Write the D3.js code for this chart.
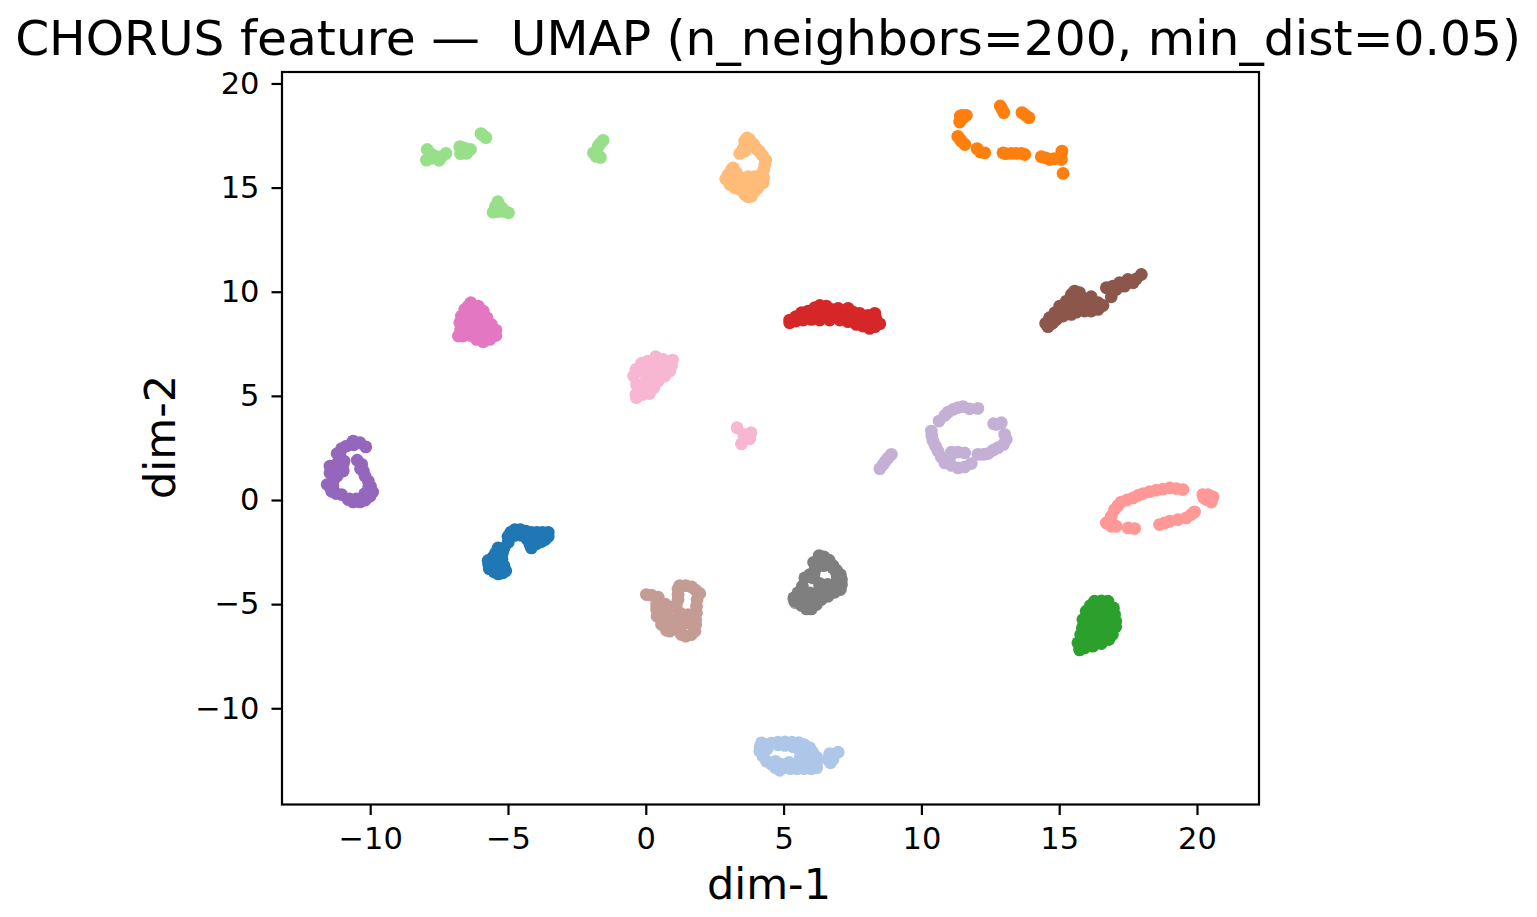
<!DOCTYPE html>
<html>
<head>
<meta charset="utf-8">
<script src="https://cdn.jsdelivr.net/npm/d3@7"></script>
<style>
html, body { margin: 0; padding: 0; background: #fff; }
svg { display: block; font-family: "DejaVu Sans", sans-serif; }
</style>
</head>
<body>
<svg id="chart" width="1537" height="917"></svg>
<script>
// Embedding coordinates per class, as [dim-1, dim-2]
const classBlue = [[-3.54,-1.55],[-3.54,-1.75],[-3.65,-1.9],[-3.8,-2.0],[-3.97,-2.1],[-4.15,-2.3],[-4.2,-2.15],[-4.05,-1.9],[-4.3,-1.9],[-3.75,-1.55],[-3.95,-1.55],[-4.15,-1.55],[-4.35,-1.5],[-4.55,-1.42],[-4.75,-1.42],[-4.9,-1.55],[-5.0,-1.75],[-4.75,-1.7],[-4.5,-1.7],[-4.25,-1.75],[-4.99,-2.03],[-5.36,-2.3],[-5.14,-2.3],[-5.45,-2.55],[-5.55,-2.75],[-5.72,-2.9],[-5.7,-3.1],[-5.68,-3.3],[-5.5,-3.45],[-5.35,-3.55],[-5.2,-3.5],[-5.08,-3.4],[-5.15,-3.15],[-5.22,-2.85],[-5.2,-2.55],[-5.4,-2.9],[-5.4,-3.2],[-5.25,-3.3]];
const classLightBlue = [[4.2,-11.66],[4.15,-11.85],[4.14,-12.06],[4.25,-12.3],[4.38,-12.54],[4.55,-12.68],[4.7,-12.85],[4.86,-12.98],[5.05,-12.85],[5.25,-12.9],[5.5,-12.9],[5.75,-12.9],[6.0,-12.9],[6.2,-12.85],[6.2,-12.6],[6.2,-12.35],[6.05,-12.1],[5.95,-11.9],[5.75,-11.75],[5.55,-11.65],[5.3,-11.63],[5.05,-11.62],[4.8,-11.63],[4.55,-11.68],[4.35,-11.75],[4.4,-11.95],[5.6,-12.1],[5.6,-12.4],[5.85,-12.3],[5.85,-12.6],[5.6,-12.65],[5.35,-12.8],[4.8,-11.75],[5.05,-11.78],[5.35,-11.85],[4.7,-12.55],[4.95,-12.7],[5.2,-12.6],[6.7,-12.62],[6.61,-12.46],[6.67,-12.18],[6.98,-12.11],[6.79,-12.46],[6.85,-12.2]];
const classOrange = [[11.63,18.47],[11.49,18.47],[11.41,18.44],[11.39,18.15],[11.51,18.36],[12.86,18.92],[12.93,18.76],[12.99,18.6],[13.65,18.6],[13.78,18.47],[13.9,18.36],[11.32,17.46],[11.41,17.31],[11.45,17.23],[11.58,17.07],[12.02,16.87],[12.3,16.67],[12.14,16.71],[12.96,16.67],[13.06,16.63],[13.26,16.64],[13.44,16.64],[13.63,16.64],[13.75,16.59],[14.35,16.48],[14.51,16.43],[14.65,16.35],[14.83,16.39],[15.1,16.75],[15.08,16.35],[15.14,15.68]];
const classLightOrange = [[3.675,17.38],[3.77,17.31],[3.92,17.07],[4.01,16.87],[4.11,16.75],[4.23,16.55],[4.35,16.32],[4.32,16.11],[4.28,15.87],[4.28,15.47],[4.2,15.63],[4.26,15.23],[4.07,14.99],[3.95,14.83],[3.83,14.59],[3.71,14.56],[3.59,14.67],[3.41,14.91],[3.23,14.99],[3.05,15.15],[2.9,15.41],[2.99,15.63],[3.11,15.87],[3.17,15.95],[3.29,15.71],[3.47,15.47],[3.71,15.52],[3.95,15.52],[3.65,15.15],[3.29,15.31],[3.89,15.15],[4.07,15.31],[3.59,17.23],[3.65,16.99],[3.53,16.87],[3.41,16.64],[3.59,16.75]];
const classGreen = [[16.28,-4.86],[16.53,-4.84],[16.77,-4.86],[16.97,-5.18],[17.01,-5.5],[17.05,-5.82],[17.05,-6.09],[16.93,-6.46],[16.8,-6.7],[16.53,-6.89],[16.22,-7.02],[15.92,-7.1],[15.74,-7.2],[15.68,-6.86],[15.78,-6.46],[15.84,-6.14],[15.86,-5.74],[15.98,-5.34],[16.13,-5.07],[16.35,-5.42],[16.71,-5.42],[16.16,-5.82],[16.53,-5.9],[16.83,-5.9],[16.1,-6.38],[16.47,-6.46],[16.1,-6.78],[16.35,-5.1],[16.7,-5.15],[16.35,-5.65],[16.7,-5.65],[16.3,-6.15],[16.7,-6.2],[16.85,-6.4],[16.1,-5.55],[16.3,-6.7],[16.65,-6.6],[15.95,-6.6],[16.05,-6.0],[16.55,-6.2]];
const classLightGreen = [[-7.93,16.83],[-7.96,16.32],[-7.5,16.31],[-7.25,16.64],[-7.65,16.51],[-7.78,16.6],[-7.8,16.4],[-7.4,16.5],[-6.75,16.96],[-6.72,16.63],[-6.5,16.64],[-6.36,16.83],[-6.6,16.91],[-6.6,16.75],[-5.98,17.59],[-5.9,17.5],[-5.8,17.4],[-5.37,14.32],[-5.54,13.82],[-4.98,13.79],[-5.3,14.11],[-5.42,13.95],[-5.18,13.87],[-5.45,14.1],[-5.2,14.0],[-5.1,13.85],[-5.35,13.85],[-1.55,17.27],[-1.65,17.13],[-1.72,16.99],[-1.9,16.67],[-1.645,16.45],[-1.79,16.75],[-1.8,16.5],[-1.75,16.6]];
const classRed = [[5.22,8.64],[5.44,8.8],[5.65,8.99],[5.89,9.07],[6.13,9.23],[6.31,9.34],[6.55,9.31],[6.73,9.15],[6.98,9.2],[7.34,9.2],[7.52,9.02],[7.76,8.96],[8.06,8.86],[8.31,8.96],[8.34,8.75],[8.49,8.46],[8.31,8.32],[8.12,8.24],[7.88,8.35],[7.64,8.43],[7.34,8.56],[7.04,8.64],[6.67,8.64],[6.31,8.64],[6.01,8.67],[5.71,8.64],[5.44,8.59],[5.22,8.51],[6.19,8.91],[6.55,8.91],[6.92,8.91],[7.22,8.86],[7.64,8.75],[8.0,8.59],[8.3,8.55]];
const classLightRed = [[19.49,0.5],[19.25,0.55],[19.01,0.58],[18.76,0.52],[18.52,0.47],[18.28,0.4],[18.04,0.31],[17.86,0.22],[17.68,0.1],[17.46,0.0],[17.25,-0.1],[17.13,-0.27],[17.01,-0.46],[16.89,-0.78],[16.81,-1.02],[16.71,-1.1],[16.89,-1.26],[17.07,-1.26],[17.5,-1.34],[17.74,-1.37],[18.64,-1.18],[18.82,-1.1],[19.01,-1.02],[19.31,-0.94],[19.61,-0.86],[19.79,-0.7],[19.91,-0.57],[20.21,0.26],[20.4,0.26],[20.58,0.15],[20.52,-0.1],[20.34,0.02],[20.4,0.1],[20.25,0.1]];
const classPurple = [[-10.62,2.83],[-10.37,2.75],[-10.16,2.55],[-10.86,2.59],[-11.04,2.46],[-11.2,2.23],[-11.08,2.03],[-11.46,1.63],[-11.46,1.31],[-10.98,1.39],[-10.98,1.71],[-11.22,1.47],[-10.95,1.87],[-10.47,1.91],[-10.31,1.71],[-10.25,1.39],[-10.19,1.15],[-10.07,0.91],[-9.99,0.66],[-9.91,0.38],[-10.01,0.18],[-10.19,-0.01],[-10.37,-0.09],[-10.62,-0.09],[-10.8,0.02],[-11.04,0.26],[-11.24,0.31],[-11.4,0.42],[-11.56,0.74],[-11.34,0.91],[-10.2,0.3],[-10.5,0.05],[-10.75,0.05],[-11.35,0.65],[-11.2,1.15],[-11.2,1.75],[-10.35,1.5],[-10.05,0.65],[-11.1,2.25],[-10.6,2.65]];
const classLightPurple = [[8.91,2.19],[8.79,2.02],[8.7,1.87],[8.61,1.7],[8.49,1.5],[12.05,4.4],[11.75,4.38],[11.51,4.48],[11.33,4.44],[11.15,4.35],[10.97,4.22],[10.85,4.06],[10.64,3.79],[10.36,3.31],[10.38,3.07],[10.42,2.83],[10.51,2.59],[10.6,2.35],[10.72,2.07],[10.85,1.78],[11.09,1.66],[11.33,1.54],[11.57,1.59],[11.81,1.75],[11.09,2.3],[11.33,2.3],[11.57,2.26],[11.03,2.03],[12.05,2.19],[12.24,2.19],[12.42,2.23],[12.6,2.39],[12.78,2.51],[12.98,2.67],[13.08,2.91],[13.02,3.15],[12.9,3.71],[12.72,3.63],[12.62,3.66]];
const classBrown = [[14.59,8.32],[14.51,8.48],[14.65,8.75],[14.84,8.99],[15.02,9.31],[15.26,9.55],[15.44,9.87],[15.56,10.03],[15.74,9.95],[15.92,9.63],[16.16,9.76],[16.41,9.47],[16.59,9.34],[16.41,9.15],[16.16,9.07],[15.92,9.07],[15.62,9.02],[15.44,8.91],[15.14,8.83],[14.9,8.67],[14.77,8.51],[15.14,9.23],[15.5,9.39],[15.92,9.31],[16.89,9.76],[16.71,10.19],[16.95,10.27],[17.19,10.43],[17.49,10.59],[17.68,10.43],[17.8,10.62],[17.98,10.83],[17.37,10.27],[17.07,10.11],[15.0,9.0],[15.3,9.15],[15.6,9.6],[16.1,9.4],[16.3,9.2],[15.75,9.2],[14.8,8.75],[15.3,9.4],[14.7,8.45],[14.95,8.85]];
const classLightBrown = [[0.02,-4.54],[0.21,-4.57],[0.45,-4.67],[0.39,-5.02],[0.39,-5.26],[0.41,-5.58],[0.57,-5.98],[0.75,-6.25],[0.87,-6.3],[1.11,-6.22],[1.29,-6.46],[1.45,-6.54],[1.66,-6.46],[1.78,-6.3],[1.81,-5.98],[1.81,-5.74],[1.84,-5.42],[1.84,-5.1],[1.86,-4.78],[1.96,-4.49],[1.81,-4.33],[1.66,-4.17],[1.45,-4.11],[1.23,-4.11],[1.17,-4.27],[1.17,-4.54],[1.17,-4.78],[1.11,-5.02],[0.87,-5.18],[0.63,-5.26],[0.69,-5.66],[1.0,-5.74],[1.35,-5.98],[1.6,-5.9],[1.54,-5.5],[1.23,-5.42],[0.93,-5.98],[0.7,-5.0],[5.44,-4.94]];
const classPink = [[-6.35,9.47],[-6.08,9.31],[-5.9,9.07],[-5.76,8.75],[-5.6,8.43],[-5.44,8.16],[-5.44,7.9],[-5.66,7.71],[-5.9,7.6],[-6.14,7.71],[-6.36,7.9],[-6.63,7.87],[-6.8,7.87],[-6.72,8.19],[-6.75,8.51],[-6.69,8.83],[-6.57,9.15],[-6.44,9.31],[-6.32,8.83],[-6.02,8.67],[-6.38,8.35],[-6.02,8.11],[-5.78,8.19],[-6.1,8.9],[-6.3,8.55],[-6.05,8.4],[-5.85,8.5],[-6.2,8.1],[-6.5,8.1],[-6.5,8.7],[-5.95,7.85],[-5.65,8.0],[-6.3,9.1]];
const classLightPink = [[0.36,6.88],[0.63,6.75],[0.97,6.72],[0.93,6.43],[0.87,6.19],[0.69,5.95],[0.45,5.71],[0.29,5.39],[0.14,5.11],[-0.1,5.07],[-0.34,4.91],[-0.36,5.07],[-0.22,5.31],[-0.34,5.55],[-0.44,5.95],[-0.36,6.27],[-0.16,6.56],[0.08,6.67],[0.27,6.35],[0.57,6.35],[-0.04,6.11],[0.27,5.87],[-0.04,5.63],[0.5,6.1],[0.15,5.6],[3.31,3.47],[3.82,3.23],[3.77,2.94],[3.47,2.7],[3.55,3.15]];
const classGray = [[6.29,-2.67],[6.46,-2.73],[6.65,-2.89],[6.09,-2.99],[6.31,-3.02],[6.61,-3.1],[6.79,-3.15],[6.92,-3.37],[7.06,-3.58],[7.1,-3.82],[7.1,-4.06],[7.06,-4.3],[6.85,-4.43],[6.61,-4.62],[6.37,-4.78],[6.19,-5.02],[6.01,-5.23],[5.83,-5.23],[5.65,-5.07],[5.4,-4.86],[5.37,-4.7],[5.52,-4.46],[5.68,-4.14],[5.77,-3.74],[5.95,-3.58],[6.13,-3.37],[6.19,-3.1],[6.07,-3.74],[6.31,-4.17],[6.65,-4.27],[5.95,-4.46],[6.31,-4.54],[5.71,-4.7],[5.95,-4.86],[6.92,-3.98],[6.92,-3.5],[6.1,-3.6],[6.3,-4.0],[6.6,-4.05],[6.95,-3.75],[6.78,-3.25],[6.45,-3.15]];

const seriesOrder = [classBlue, classLightBlue, classOrange, classLightOrange, classGreen, classLightGreen, classRed, classLightRed, classPurple, classLightPurple, classBrown, classLightBrown, classPink, classLightPink, classGray];
const seriesColors = ["#1f77b4","#aec7e8","#ff7f0e","#ffbb78","#2ca02c","#98df8a","#d62728","#ff9896","#9467bd","#c5b0d5","#8c564b","#c49c94","#e377c2","#f7b6d2","#7f7f7f"];

const xTicks = [-10, -5, 0, 5, 10, 15, 20];
const yTicks = [-10, -5, 0, 5, 10, 15, 20];
const titleText = "CHORUS feature \u2014  UMAP (n_neighbors=200, min_dist=0.05)";
const xLabel = "dim-1";
const yLabel = "dim-2";

const plot = { left: 282, right: 1259, top: 72, bottom: 804.5 };
const x = d3.scaleLinear().domain([-13.2, 22.25]).range([plot.left, plot.right]);
const y = d3.scaleLinear().domain([-14.62, 20.55]).range([plot.bottom, plot.top]);

const svg = d3.select("#chart");

// Each class is one layer of round markers, later classes on top
svg.append("g").selectAll("g")
  .data(seriesOrder)
  .join("g")
  .attr("fill", (d, i) => seriesColors[i])
  .selectAll("circle")
  .data(d => d)
  .join("circle")
  .attr("cx", d => x(d[0]))
  .attr("cy", d => y(d[1]))
  .attr("r", 6.4);

// Axes with outward ticks
const fontTick = 30.5;
const xAxis = svg.append("g")
  .attr("transform", `translate(0,${plot.bottom})`)
  .call(d3.axisBottom(x).tickValues(xTicks).tickSize(10.5).tickPadding(12.5));
const yAxis = svg.append("g")
  .attr("transform", `translate(${plot.left},0)`)
  .call(d3.axisLeft(y).tickValues(yTicks).tickSize(10.5).tickPadding(12));

[xAxis, yAxis].forEach(a => {
  a.select(".domain").remove();
  a.selectAll("line").attr("stroke", "#000").attr("stroke-width", 2.2);
  a.selectAll("text").attr("fill", "#000").attr("font-size", fontTick).attr("font-family", "DejaVu Sans");
});

// Frame around the plotting area
svg.append("rect")
  .attr("x", plot.left).attr("y", plot.top)
  .attr("width", plot.right - plot.left).attr("height", plot.bottom - plot.top)
  .attr("fill", "none").attr("stroke", "#000").attr("stroke-width", 2.2);

svg.append("text")
  .attr("x", 769).attr("y", 899)
  .attr("text-anchor", "middle").attr("font-size", 43)
  .text(xLabel);

svg.append("text")
  .attr("transform", "translate(175,437) rotate(-90)")
  .attr("text-anchor", "middle").attr("font-size", 43)
  .text(yLabel);

svg.append("text")
  .attr("x", 768).attr("y", 55)
  .attr("text-anchor", "middle").attr("font-size", 48.7)
  .style("white-space", "pre")
  .text(titleText);
</script>
</body>
</html>
